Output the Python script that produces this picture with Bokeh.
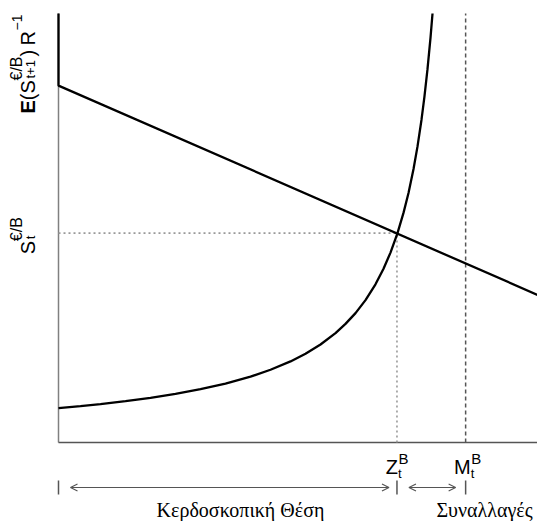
import math
from bokeh.plotting import figure
from bokeh.models import Range1d, Arrow, OpenHead
from bokeh.core.properties import value
from bokeh.embed import file_html
from bokeh.resources import INLINE

# ---- data (conceptual units: both axes 0..100) ----
demand_x = [0, 0, 100]
demand_y = [100, 83.2, 33.6]
supply_x = [0.0, 4.52, 8.62, 13.76, 18.89, 24.02, 29.16, 34.29, 39.43, 43.53,
            47.64, 50.72, 53.80, 56.88, 58.93, 60.99, 63.04, 65.09, 66.74, 68.17,
            69.61, 70.84, 71.87, 72.90, 73.72, 74.54, 75.15, 75.77, 76.39, 76.80]
supply_y = [8.02, 8.48, 8.95, 9.63, 10.42, 11.33, 12.42, 13.73, 15.36, 16.95,
            18.90, 20.70, 22.84, 25.50, 27.65, 30.16, 33.19, 36.88, 40.49, 44.27,
            48.81, 53.52, 58.18, 63.75, 69.02, 75.24, 80.70, 87.02, 94.38, 100.0]
z_pos = 69.5
m_pos = 83.6
s_level = 48.8
x_marks = ["Z", "M"]
range_texts = ["Κερδοσκοπική Θέση", "Συναλλαγές"]

# ---- layout helpers (picture pixels -> data units) ----
SX, SY = 4.87, 4.29
OX, OY = 58, 442
W, H = 537, 521
BL = 6  # baseline correction (px) for text rendering

def px_x(px):
    return (px - OX) / SX

def px_y(py):
    return (OY - py) / SY

def to_px_x(x):
    return OX + x * SX

def to_px_y(y):
    return OY - y * SY

p = figure(width=W, height=H, output_backend="svg", toolbar_location=None,
           x_range=Range1d(px_x(0), px_x(W)),
           y_range=Range1d(px_y(H), px_y(0)),
           min_border=0, outline_line_color=None)
p.xaxis.visible = False
p.yaxis.visible = False
p.xgrid.visible = False
p.ygrid.visible = False
p.background_fill_color = "white"
p.border_fill_color = "white"

# axes lines
p.line([0, 0], [0, 100], line_color="#808080", line_width=1.5)
p.line([0, 100], [0, 0], line_color="#555555", line_width=1.5)

# dotted guides
p.line([0, z_pos], [s_level, s_level], line_color="#999999", line_width=1.6, line_dash="2 3")
p.line([z_pos, z_pos], [0, s_level], line_color="#999999", line_width=1.6, line_dash="2 3")
# dashed M line
p.line([m_pos, m_pos], [0, 100], line_color="#555555", line_width=1.5, line_dash="4 3")

# curves
p.line(demand_x, demand_y, line_color="black", line_width=2.3)
p.line(supply_x, supply_y, line_color="black", line_width=2.3)


def txt(xp, yp, s, size, font="Liberation Sans", style="normal", align="left", angle=0.0):
    # xp, yp: picture pixels of the intended baseline point
    if angle:
        xp = xp - BL
    else:
        yp = yp - BL
    p.text(x=[px_x(xp)], y=[px_y(yp)], text=[s], text_font=value(font),
           text_font_size=f"{size}px", text_font_style=style, text_align=align,
           text_baseline="alphabetic", angle=angle, text_color="black")

A = math.pi / 2
# y label 1: E(S^{€/B}_{t+1}) R^{-1}
txt(33, 113, "E", 20, style="bold", angle=A)
txt(33, 99.7, "(S", 20, angle=A)
txt(22, 80, "€/B", 16, angle=A)
txt(36, 78, "t+1", 13, angle=A)
txt(33, 56, ")", 20, angle=A)
txt(33, 45, "R", 20, angle=A)
txt(22, 30, "\u22121", 14, angle=A)

# y label 2: S^{€/B}_t (centred on the S level)
s_px = to_px_y(s_level)
txt(33, s_px + 21, "S", 20, angle=A)
txt(22, s_px + 8, "€/B", 16, angle=A)
txt(36, s_px + 6, "t", 13, angle=A)

# x labels Z_t^B and M_t^B
for name, pos, dxm in zip(x_marks, [z_pos, m_pos], [1.0, 5.0]):
    xp = to_px_x(pos) + dxm
    txt(xp, 472, name, 20, align="right")
    txt(xp + 0.5, 464, "B", 15)
    txt(xp, 479, "t", 13)

# small tick marks under the axis
for pos in [0, z_pos, m_pos]:
    p.line([pos, pos], [px_y(480), px_y(494)], line_color="#555555", line_width=1.5)

# double-headed arrows
ay = px_y(487)
for xs, xe in [(px_x(70), px_x(to_px_x(z_pos) - 8)),
               (px_x(to_px_x(z_pos) + 12), px_x(to_px_x(m_pos) - 10))]:
    p.add_layout(Arrow(x_start=xs, y_start=ay, x_end=xe, y_end=ay,
                       line_color="#555555", line_width=1.2,
                       start=OpenHead(size=7, line_color="#555555", line_width=1.2),
                       end=OpenHead(size=7, line_color="#555555", line_width=1.2)))

# range texts
txt(240, 515, range_texts[0], 20, font="Liberation Serif", align="center")
txt(484, 515, range_texts[1], 20, font="Liberation Serif", align="center")

open("out.html", "w").write(file_html(p, INLINE))
